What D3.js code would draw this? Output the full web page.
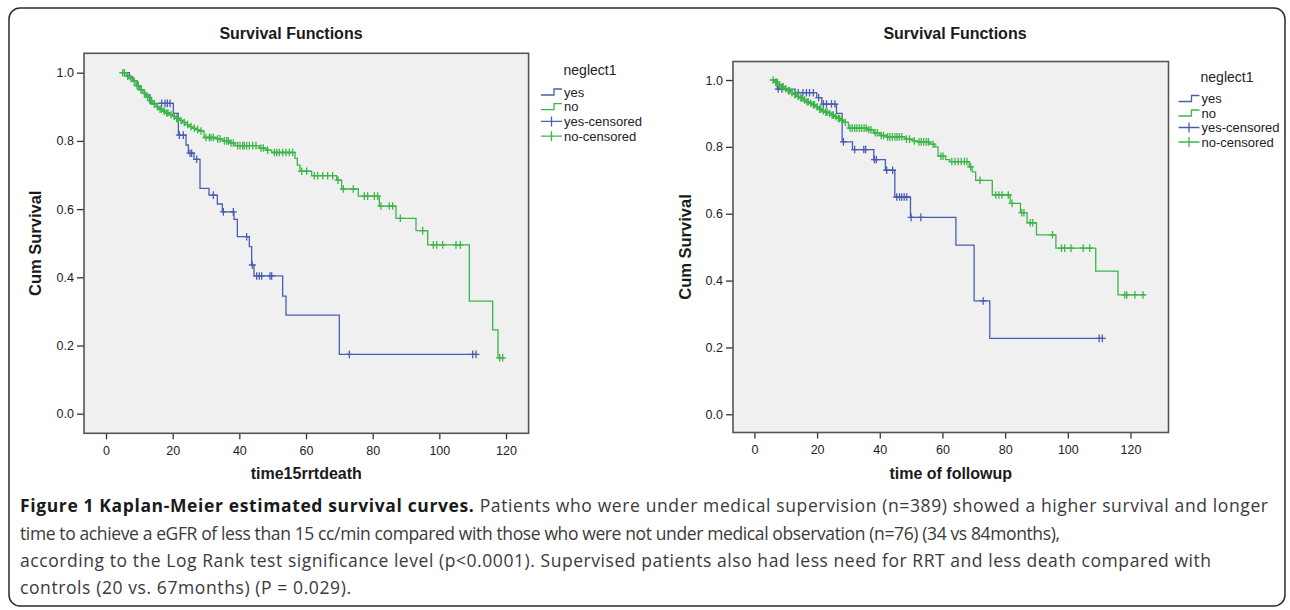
<!DOCTYPE html>
<html>
<head>
<meta charset="utf-8">
<script src="https://cdn.jsdelivr.net/npm/d3@7"></script>
<style>
  html, body { margin: 0; padding: 0; background: #ffffff; }
  svg { display: block; }
</style>
</head>
<body>
<svg id="chart" width="1290" height="610"></svg>
<script>
// ---------------- DATA ----------------
const chartTitles = ["Survival Functions", "Survival Functions"];
const xAxisTitles = ["time15rrtdeath", "time of followup"];
const yAxisTitle = "Cum Survival";
const legendTitle = "neglect1";
const legendLabels = ["yes", "no", "yes-censored", "no-censored"];
const xTicks = [0, 20, 40, 60, 80, 100, 120];
const yTicks = [0.0, 0.2, 0.4, 0.6, 0.8, 1.0];

// Left panel: time15rrtdeath
const leftYesStart = 4.2, leftYesEnd = 111.2;
const leftYesTimes = [7, 8, 9.5, 10.5, 11.6, 13.2, 20.2, 21.7, 24, 24.7, 26.4, 28.2, 30.9, 33.4, 34.9, 38.4, 39.4, 43, 43.7, 44.4, 53, 54, 70];
const leftYesSurv  = [0.988, 0.975, 0.96, 0.948, 0.935, 0.91, 0.881, 0.817, 0.788, 0.764, 0.746, 0.661, 0.641, 0.615, 0.592, 0.57, 0.519, 0.49, 0.436, 0.404, 0.345, 0.289, 0.174];
const leftYesCensor = [16.7, 17.7, 18.4, 19.2, 22, 23.2, 25.2, 25.7, 27.2, 32.2, 35.2, 38.2, 42.2, 43.9, 45.2, 46, 46.7, 49.2, 49.7, 73, 110, 111];

const leftNoStart = 4.7, leftNoEnd = 119.3;
const leftNoTimes = [6, 7, 8, 9, 10, 11, 12, 13, 14, 15, 16, 17, 18, 19, 20, 21, 22, 23, 24, 25, 26, 27, 28, 29.4, 33, 35, 37, 38.7, 46, 48, 49.7, 56.7, 57.4, 58.2, 61.7, 69.2, 70.7, 75.7, 82, 87, 93, 96.5, 109, 116, 117.6];
const leftNoSurv  = [0.99, 0.983, 0.975, 0.962, 0.95, 0.94, 0.928, 0.918, 0.908, 0.9, 0.893, 0.887, 0.882, 0.877, 0.872, 0.866, 0.86, 0.854, 0.848, 0.842, 0.837, 0.833, 0.829, 0.81, 0.806, 0.8, 0.794, 0.786, 0.779, 0.773, 0.766, 0.749, 0.729, 0.711, 0.698, 0.685, 0.659, 0.638, 0.609, 0.573, 0.537, 0.495, 0.33, 0.246, 0.164];
const leftNoCensor = [5, 5.5, 6.5, 7.5, 8.5, 9.3, 9.7, 10.5, 11.5, 12.5, 13.3, 13.7, 14.5, 15.5, 16.2, 16.6, 17.5, 18.2, 18.6, 19.5, 20.5, 21.2, 21.6, 22.5, 23.5, 24.5, 25.5, 26.5, 27.5, 28.5, 30, 31, 31.5, 32.2, 33.5, 34.2, 35.5, 36.2, 36.7, 37.5, 38.2, 39.5, 40.2, 41, 41.5, 42.2, 43, 44, 45, 46.5, 47.2, 48.5, 50.5, 51.2, 52, 53, 54, 55, 56, 58.7, 60.2, 62.5, 63.5, 65, 66.5, 68, 69.6, 71.2, 74.2, 77.5, 78.5, 80.5, 81.5, 82.5, 85, 86, 88.3, 95, 98.2, 99.2, 101, 105, 106.3, 118.1, 119];

// Right panel: time of followup
const rightYesStart = 6, rightYesEnd = 111.8;
const rightYesTimes = [7.3, 13, 19.9, 21.5, 26.2, 28, 31.3, 38.1, 41.8, 44.8, 49.8, 64.3, 70.1, 75.1];
const rightYesSurv  = [0.973, 0.962, 0.947, 0.928, 0.9, 0.815, 0.792, 0.762, 0.73, 0.65, 0.589, 0.506, 0.339, 0.227];
const rightYesCensor = [7.6, 8.8, 14, 15.5, 16.6, 17.6, 18.8, 20.5, 22, 23, 24.6, 25.7, 28.4, 32, 34.9, 35.5, 38.3, 38.9, 42.2, 44.1, 45.4, 46.3, 47, 47.8, 48.6, 50, 53.1, 73, 110, 111];

const rightNoStart = 5.5, rightNoEnd = 124.6;
const rightNoTimes = [6.5, 7.5, 8.5, 9.5, 10.5, 11.5, 12.5, 13.5, 14.5, 15.5, 16.5, 17.5, 18.5, 19.5, 20.5, 21.5, 22.5, 23.5, 24.5, 25.5, 26.5, 27.5, 28.5, 30, 36, 38, 40, 42, 48, 50.5, 52, 56, 57.5, 58.6, 61, 62.3, 68.5, 69.5, 70.6, 75.9, 81.6, 84.9, 87, 90, 96.2, 108.9, 116];
const rightNoSurv  = [0.993, 0.986, 0.98, 0.974, 0.968, 0.962, 0.957, 0.951, 0.946, 0.94, 0.935, 0.93, 0.926, 0.92, 0.913, 0.908, 0.904, 0.9, 0.895, 0.89, 0.885, 0.88, 0.873, 0.856, 0.851, 0.842, 0.834, 0.83, 0.823, 0.818, 0.815, 0.808, 0.8, 0.772, 0.762, 0.756, 0.74, 0.725, 0.7, 0.656, 0.631, 0.603, 0.573, 0.537, 0.497, 0.428, 0.357];
const rightNoCensor = [6, 6.8, 7.2, 8, 8.8, 9.2, 10, 10.8, 11.2, 12, 12.8, 13.2, 14, 14.8, 15.2, 16, 16.8, 17.2, 18, 18.8, 19.2, 20, 20.8, 21.2, 22, 22.8, 23.2, 24, 24.8, 25.2, 26, 26.8, 27.2, 28, 29, 30.5, 31.2, 32, 32.7, 33.5, 34.2, 35, 35.7, 36.5, 37.2, 38.5, 39.2, 40.5, 41.2, 42.5, 43.2, 44, 44.8, 45.5, 46.2, 47, 48.5, 49.5, 51, 52.5, 53.2, 54, 54.8, 55.5, 57, 59.5, 60.2, 63, 64, 65, 66, 67, 67.8, 69, 72, 77, 78, 79, 81, 82.2, 85.3, 86, 88, 88.8, 95.1, 98, 99, 101, 104.9, 107, 118.2, 118.8, 121.4, 124];

const captionBold = "Figure 1 Kaplan-Meier estimated survival curves.";
const captionLines = [
  " Patients who were under medical supervision (n=389) showed a higher survival and longer",
  "time to achieve a eGFR of less than 15 cc/min compared with those who were not under medical observation (n=76) (34 vs 84months),",
  "according to the Log Rank test significance level (p<0.0001). Supervised patients also had less need for RRT and less death compared with",
  "controls (20 vs. 67months) (P = 0.029)."
];

// ---------------- STYLE / LAYOUT ----------------
const BLUE = "#4a5eb0";
const GREEN = "#3db54a";
const svg = d3.select("#chart");

// outer frame
svg.append("rect")
  .attr("x", 9).attr("y", 8).attr("width", 1276).attr("height", 598)
  .attr("rx", 11).attr("ry", 11)
  .attr("fill", "none").attr("stroke", "#2b2b2b").attr("stroke-width", 1.5);

const panels = [
  {
    box: {x0: 84, x1: 528.6, y0: 53.3, y1: 433.3},
    xRange: [106, 506], yRange: [413.7, 72.7],
    title: chartTitles[0], titleX: 291, titleY: 39,
    xTitle: xAxisTitles[0], yTitleX: 41,
    legend: {x: 541, titleY: 75, itemY: [92, 106.7, 121.4, 136.1], titleX: 590},
    series: [
      {start: leftYesStart, end: leftYesEnd, t: leftYesTimes, s: leftYesSurv, c: leftYesCensor, color: BLUE},
      {start: leftNoStart, end: leftNoEnd, t: leftNoTimes, s: leftNoSurv, c: leftNoCensor, color: GREEN}
    ]
  },
  {
    box: {x0: 733, x1: 1168.5, y0: 61.5, y1: 432.5},
    xRange: [754.4, 1130.5], yRange: [414.3, 80],
    title: chartTitles[1], titleX: 955, titleY: 39,
    xTitle: xAxisTitles[1], yTitleX: 691,
    legend: {x: 1178.5, titleY: 81.5, itemY: [98.5, 113, 127.5, 142], titleX: 1227},
    series: [
      {start: rightYesStart, end: rightYesEnd, t: rightYesTimes, s: rightYesSurv, c: rightYesCensor, color: BLUE},
      {start: rightNoStart, end: rightNoEnd, t: rightNoTimes, s: rightNoSurv, c: rightNoCensor, color: GREEN}
    ]
  }
];

panels.forEach(p => {
  const g = svg.append("g");
  const x = d3.scaleLinear().domain([0, 120]).range(p.xRange);
  const y = d3.scaleLinear().domain([0, 1]).range(p.yRange);
  const b = p.box;

  // plot background
  g.append("rect")
    .attr("x", b.x0).attr("y", b.y0)
    .attr("width", b.x1 - b.x0).attr("height", b.y1 - b.y0)
    .attr("fill", "#f0f0f0");

  // title
  g.append("text")
    .attr("x", p.titleX).attr("y", p.titleY)
    .attr("text-anchor", "middle")
    .attr("font-family", "'Liberation Sans', Arial, sans-serif")
    .attr("font-weight", "bold").attr("font-size", 16)
    .attr("fill", "#1a1a1a")
    .text(p.title);

  // axes
  const yAxis = d3.axisLeft(y).tickValues(yTicks).tickFormat(d3.format(".1f")).tickSize(7).tickPadding(3);
  const gy = g.append("g").attr("transform", `translate(${b.x0},0)`).call(yAxis);
  const xAxis = d3.axisBottom(x).tickValues(xTicks).tickFormat(d3.format("d")).tickSize(6).tickPadding(7);
  const gx = g.append("g").attr("transform", `translate(0,${b.y1})`).call(xAxis);
  [gx, gy].forEach(ax => {
    ax.select(".domain").remove();
    ax.selectAll("line").attr("stroke", "#333").attr("stroke-width", 1.3);
    ax.selectAll("text")
      .attr("font-family", "'Liberation Sans', Arial, sans-serif")
      .attr("font-size", 12.5).attr("fill", "#222");
  });

  // box border
  g.append("rect")
    .attr("x", b.x0).attr("y", b.y0)
    .attr("width", b.x1 - b.x0).attr("height", b.y1 - b.y0)
    .attr("fill", "none").attr("stroke", "#555").attr("stroke-width", 1.6);

  // axis titles
  g.append("text")
    .attr("x", (b.x0 + b.x1) / 2).attr("y", 479)
    .attr("text-anchor", "middle")
    .attr("font-family", "'Liberation Sans', Arial, sans-serif")
    .attr("font-weight", "bold").attr("font-size", 16).attr("fill", "#1a1a1a")
    .text(p.xTitle);
  g.append("text")
    .attr("transform", `translate(${p.yTitleX},${(b.y0 + b.y1) / 2}) rotate(-90)`)
    .attr("text-anchor", "middle")
    .attr("font-family", "'Liberation Sans', Arial, sans-serif")
    .attr("font-weight", "bold").attr("font-size", 16.5).attr("fill", "#1a1a1a")
    .text(yAxisTitle);

  // curves
  const line = d3.line().x(d => x(d[0])).y(d => y(d[1])).curve(d3.curveStepAfter);
  p.series.forEach(s => {
    const pts = [[s.start, 1.0]];
    s.t.forEach((t, i) => pts.push([t, s.s[i]]));
    pts.push([s.end, s.s[s.s.length - 1]]);
    g.append("path").datum(pts)
      .attr("d", line).attr("fill", "none")
      .attr("stroke", s.color).attr("stroke-width", 1.3);
    const survAt = t => {
      let v = 1.0;
      s.t.forEach((tt, i) => { if (tt <= t) v = s.s[i]; });
      return v;
    };
    const marks = g.append("g");
    s.c.forEach(ct => {
      const cx = x(ct), cy = y(survAt(ct));
      marks.append("path")
        .attr("d", `M${cx - 3.5},${cy}H${cx + 3.5}M${cx},${cy - 3.8}V${cy + 3.8}`)
        .attr("stroke", s.color).attr("stroke-width", 1.3).attr("fill", "none");
    });
  });

  // legend
  const L = p.legend;
  const lg = g.append("g")
    .attr("font-family", "'Liberation Sans', Arial, sans-serif");
  lg.append("text").attr("x", L.titleX).attr("y", L.titleY)
    .attr("text-anchor", "middle").attr("font-size", 14).attr("fill", "#222")
    .text(legendTitle);
  const legColors = [BLUE, GREEN, BLUE, GREEN];
  legendLabels.forEach((lab, i) => {
    const yy = L.itemY[i];
    let d;
    if (i < 2) {
      d = `M${L.x},${yy + 3}H${L.x + 13}V${yy - 3}H${L.x + 21}`;
    } else {
      d = `M${L.x},${yy}H${L.x + 21}M${L.x + 10.5},${yy - 5}V${yy + 5}`;
    }
    lg.append("path").attr("d", d).attr("fill", "none")
      .attr("stroke", legColors[i]).attr("stroke-width", 1.3);
    lg.append("text").attr("x", L.x + 23).attr("y", yy + 4.5)
      .attr("font-size", 13).attr("fill", "#222")
      .text(lab);
  });
});

// caption
const capFont = "'Open Sans', 'Noto Sans', sans-serif";
const capY = [512, 540, 567, 594];
const capW = [1248, 1040, 1191, 331];
captionLines.forEach((ln, i) => {
  const t = svg.append("text")
    .attr("x", 20).attr("y", capY[i])
    .attr("font-family", capFont).attr("font-size", 17.5)
    .attr("fill", "#3a3a3a")
    .attr("textLength", capW[i]).attr("lengthAdjust", "spacing");
  if (i === 0) {
    t.append("tspan").attr("font-weight", "bold").attr("fill", "#1a1a1a").text(captionBold);
  }
  t.append("tspan").text(ln);
});
</script>
</body>
</html>
